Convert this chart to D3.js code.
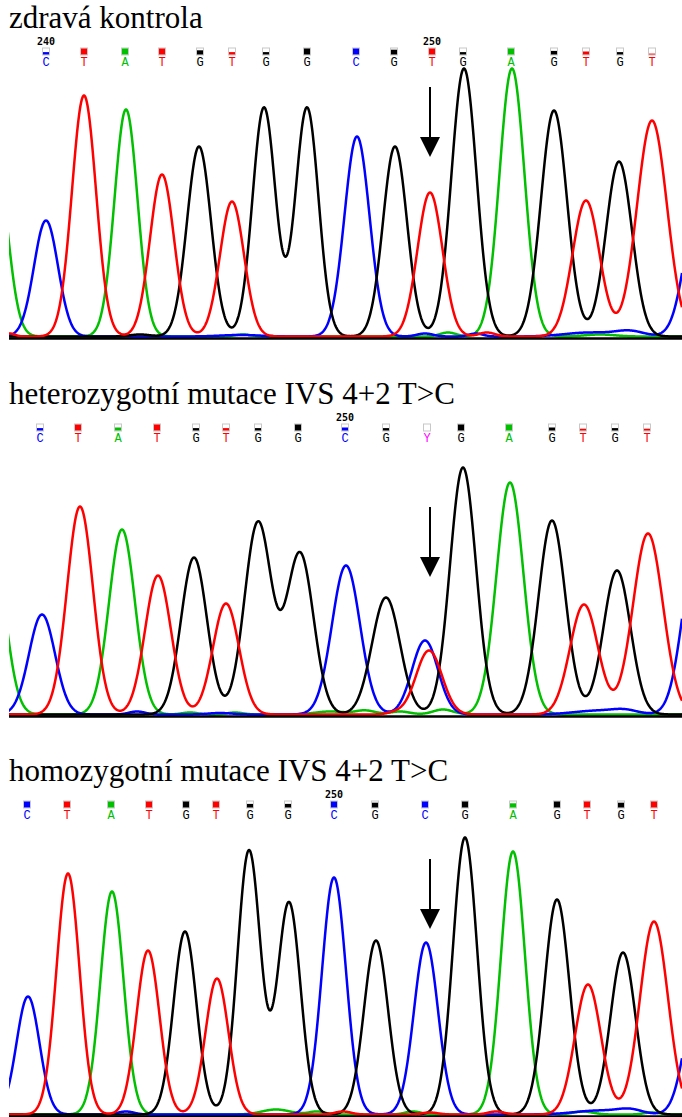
<!DOCTYPE html>
<html>
<head>
<meta charset="utf-8">
<script src="https://cdn.jsdelivr.net/npm/d3@7"></script>
<style>
  body { margin: 0; background: #fff; }
  svg { display: block; }
  .title { font-family: "Liberation Serif", "Times New Roman", Times, "DejaVu Serif", serif; font-size: 31px; }
  .call { font-family: "Liberation Mono", "Courier New", Courier, "DejaVu Sans Mono", monospace; font-size: 12px; }
  .num { font-family: "DejaVu Sans Mono", monospace; font-weight: bold; font-size: 10px; }
</style>
</head>
<body>
<svg id="chart" width="682" height="1117"></svg>
<script>
'use strict';

// ---- data: titles, base calls, peaks (base, scan position, signal, width) ----
const ctrlTitle = "zdravá kontrola";
const hetTitle = "heterozygotní mutace IVS 4+2 T>C";
const homTitle = "homozygotní mutace IVS 4+2 T>C";

const ctrlCalls = "CTATGTGGCGTGAGTGT".split("");
const ctrlCallPos = [46, 84, 125, 162, 200, 232, 266, 307, 356, 394, 432, 463, 511, 554, 586, 620, 652];
const ctrlCallQual = [0.4, 1, 1, 1, 0.7, 0.4, 0.4, 1, 1, 0.8, 1, 0.4, 1, 0.6, 0.5, 0.4, 0.15];
const ctrlTickPos = [46, 432];
const ctrlTickLabels = ["240", "250"];

const hetCalls = "CTATGTGGCGYGAGTGT".split("");
const hetCallPos = [40, 78, 118, 157, 196, 226, 258, 298, 345, 386, 427, 461, 509, 552, 583, 615, 647];
const hetCallQual = [0.4, 1, 0.5, 1, 0.4, 0.4, 0.4, 1, 0.5, 0.4, 0, 1, 1, 0.5, 0.3, 0.4, 0.3];
const hetTickPos = [345];
const hetTickLabels = ["250"];

const homCalls = "CTATGTGGCGCGAGTGT".split("");
const homCallPos = [27, 67, 111, 149, 186, 216, 250, 288, 334, 375, 425, 465, 513, 557, 587, 621, 654];
const homCallQual = [1, 1, 1, 1, 1, 1, 0.6, 0.6, 1, 0.8, 1, 1, 0.7, 1, 1, 0.8, 1];
const homTickPos = [334];
const homTickLabels = ["250"];

const ctrlPeaks = [
  ["A", -5, 185, 12], ["A", 126, 227, 11.5], ["A", 512, 268, 12.5],
  ["C", 46, 116, 12], ["C", 357, 200, 12.5], ["C", 700, 145, 14],
  ["T", 84, 241, 12], ["T", 162, 162, 12], ["T", 232, 135, 12], ["T", 430, 144, 12.5], ["T", 586, 136, 13.5], ["T", 652, 216, 15],
  ["G", 199, 190, 12], ["G", 264, 229, 11.5], ["G", 307, 229, 11.5], ["G", 395, 190, 12], ["G", 464, 268, 12.5], ["G", 554, 226, 13], ["G", 619, 175, 13]
];
const ctrlNoise = [
  ["C", 590, 4, 25], ["C", 630, 5, 14], ["C", 425, 3, 8], ["C", 476, 3, 7], ["C", 240, 1.5, 20],
  ["G", 140, 2, 10],
  ["A", 448, 4, 8], ["A", 243, 2, 8], ["A", 600, 2, 15],
  ["T", 487, 4, 8], ["T", 10, 3, 5]
];

const hetPeaks = [
  ["A", -8, 170, 13], ["A", 122, 185, 13], ["A", 510, 232, 13.5],
  ["C", 42, 100, 13], ["C", 346, 149, 14], ["C", 425, 74, 13], ["C", 697, 170, 14],
  ["T", 80, 208, 13], ["T", 158, 139, 13], ["T", 226, 111, 13], ["T", 429, 64, 13], ["T", 584, 110, 14], ["T", 648, 181, 15],
  ["G", 194, 157, 13], ["G", 258, 192, 13.5], ["G", 300, 161, 13.5], ["G", 386, 117, 14], ["G", 463, 247, 13], ["G", 552, 194, 13.5], ["G", 617, 144, 13.5]
];
const hetNoise = [
  ["C", 600, 4, 25], ["C", 625, 3, 12], ["C", 137, 3, 8], ["C", 220, 1.5, 12],
  ["A", 190, 2, 8], ["A", 235, 2, 8], ["A", 330, 3, 15], ["A", 365, 4, 10], ["A", 400, 3, 10], ["A", 443, 5, 10],
  ["T", 395, 2, 8]
];

const homPeaks = [
  ["A", 112, 223, 11.5], ["A", 513, 263, 12],
  ["C", 28, 118, 11.5], ["C", 334, 237, 12], ["C", 426, 172, 12], ["C", 698, 120, 13],
  ["T", 68, 241, 11.5], ["T", 148, 164, 11.5], ["T", 217, 136, 11.5], ["T", 588, 130, 13], ["T", 654, 193, 14],
  ["G", 185, 183, 11.5], ["G", 249, 264, 11.5], ["G", 289, 212, 11.5], ["G", 376, 174, 12], ["G", 465, 277, 12], ["G", 557, 215, 12.5], ["G", 623, 162, 12.5]
];
const homNoise = [
  ["A", 276, 5, 14], ["A", 317, 3, 8], ["A", 413, 3, 8], ["A", 583, 3, 10], ["A", 652, 2, 8],
  ["T", 343, 3, 8], ["T", 430, 2, 8], ["T", 496, 3, 8],
  ["C", 126, 3, 8], ["C", 600, 4, 25], ["C", 630, 4, 12]
];

const channels = ["A", "C", "G", "T"];   // drawing order
const baseColor = { A: "#00c000", C: "#0000ff", G: "#000000", T: "#ff0000", Y: "#ff00ff" };

// ---- layout ----
const W = 682, left = 9;
const panels = [
  { title: ctrlTitle, top: 0, base: 338, arrowPos: 430, arrowTip: 157,
    calls: ctrlCalls, callPos: ctrlCallPos, qual: ctrlCallQual, tickPos: ctrlTickPos, tickLabels: ctrlTickLabels,
    peaks: ctrlPeaks, noise: ctrlNoise },
  { title: hetTitle, top: 376, base: 716, arrowPos: 430, arrowTip: 577,
    calls: hetCalls, callPos: hetCallPos, qual: hetCallQual, tickPos: hetTickPos, tickLabels: hetTickLabels,
    peaks: hetPeaks, noise: hetNoise },
  { title: homTitle, top: 753, base: 1116, arrowPos: 430, arrowTip: 929,
    calls: homCalls, callPos: homCallPos, qual: homCallQual, tickPos: homTickPos, tickLabels: homTickLabels,
    peaks: homPeaks, noise: homNoise }
];

const svg = d3.select("#chart");
const x = d3.scaleLinear().domain([0, W]).range([0, W]);
const samples = d3.range(0, W + 0.5, 0.5);

function signal(list, ch, s) {
  let v = 0;
  list.forEach(function(p) {
    if (p[0] !== ch) return;
    const d = s - p[1];
    v += p[2] * Math.exp(-(d * d) / (2 * p[3] * p[3]));
  });
  return v;
}

panels.forEach(function(p, i) {
  const g = svg.append("g");
  const y = d3.scaleLinear().domain([0, 300]).range([p.base - 1.5, p.base - 301.5]);

  // title
  g.append("text")
    .attr("class", "title")
    .attr("x", left)
    .attr("y", p.top + 28)
    .attr("fill", "#000")
    .text(p.title);

  // position numbers
  g.selectAll(".num")
    .data(p.tickPos)
    .enter().append("text")
    .attr("class", "num")
    .attr("x", function(d) { return x(d); })
    .attr("y", p.top + 45)
    .attr("text-anchor", "middle")
    .text(function(d, k) { return p.tickLabels[k]; });

  // quality boxes
  const calls = p.calls.map(function(b, k) { return { b: b, pos: p.callPos[k], q: p.qual[k] }; });
  g.selectAll(".qbox")
    .data(calls)
    .enter().append("rect")
    .attr("x", function(d) { return x(d.pos) - 3.5; })
    .attr("y", p.top + 48)
    .attr("width", 7)
    .attr("height", 7)
    .attr("fill", "#fff")
    .attr("stroke", "#c8c8c8")
    .attr("stroke-width", 1);
  g.selectAll(".qfill")
    .data(calls)
    .enter().append("rect")
    .attr("x", function(d) { return x(d.pos) - 3; })
    .attr("y", function(d) { return p.top + 48.5 + 6 * (1 - d.q); })
    .attr("width", 6)
    .attr("height", function(d) { return 6 * d.q; })
    .attr("fill", function(d) { return baseColor[d.b]; });

  // base letters
  g.selectAll(".call")
    .data(calls)
    .enter().append("text")
    .attr("class", "call")
    .attr("x", function(d) { return x(d.pos); })
    .attr("y", p.top + 66)
    .attr("text-anchor", "middle")
    .attr("fill", function(d) { return baseColor[d.b]; })
    .text(function(d) { return d.b; });

  // traces
  const clipId = "clip" + i;
  svg.append("clipPath").attr("id", clipId)
    .append("rect")
    .attr("x", left).attr("y", p.base - 310)
    .attr("width", W - left).attr("height", 320);

  const line = d3.line()
    .x(function(d) { return x(d[0]); })
    .y(function(d) { return y(d[1]); });

  const traces = g.append("g").attr("clip-path", "url(#" + clipId + ")");
  channels.forEach(function(ch) {
    const pts = samples.map(function(s) {
      return [s, signal(p.peaks, ch, s) + signal(p.noise, ch, s)];
    });
    traces.append("path")
      .datum(pts)
      .attr("fill", "none")
      .attr("stroke", baseColor[ch])
      .attr("stroke-width", 2.5)
      .attr("stroke-linejoin", "round")
      .attr("d", line);
  });

  // baseline
  g.append("line")
    .attr("x1", left).attr("x2", W)
    .attr("y1", p.base + 0.5).attr("y2", p.base + 0.5)
    .attr("stroke", "#000")
    .attr("stroke-width", 2.5);

  // arrow
  const ax = x(p.arrowPos);
  g.append("line")
    .attr("x1", ax).attr("x2", ax)
    .attr("y1", p.arrowTip - 70).attr("y2", p.arrowTip - 15)
    .attr("stroke", "#000")
    .attr("stroke-width", 2);
  g.append("path")
    .attr("d", "M" + (ax - 10) + "," + (p.arrowTip - 20) + "L" + (ax + 10) + "," + (p.arrowTip - 20) + "L" + ax + "," + p.arrowTip + "Z")
    .attr("fill", "#000");
});
</script>
</body>
</html>
